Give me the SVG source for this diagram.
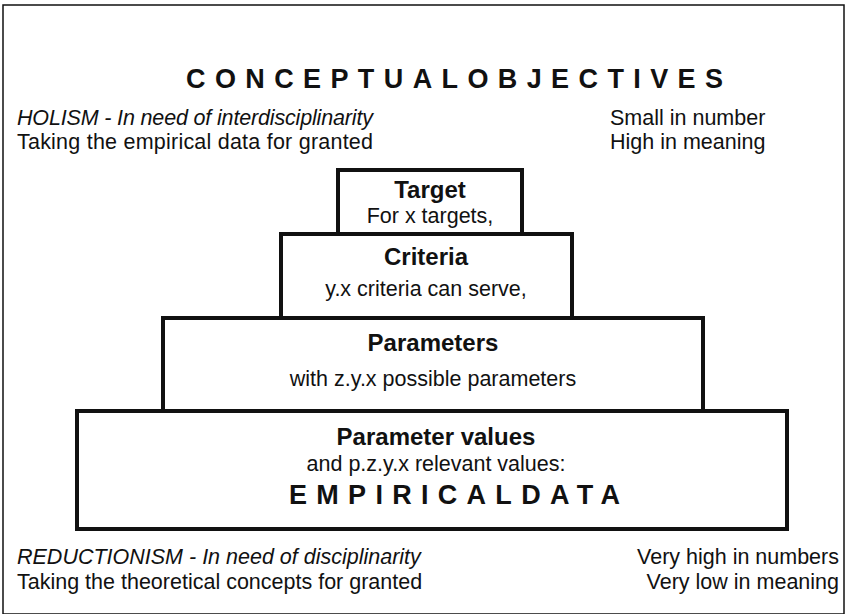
<svg xmlns="http://www.w3.org/2000/svg" width="846" height="614" viewBox="0 0 846 614">
<style>
text{font-family:"Liberation Sans",Arial,sans-serif;fill:#111}
.box{fill:#fff;stroke:#111;stroke-width:4}
.t{font-size:24px;font-weight:bold;text-anchor:middle}
.s{font-size:21.5px;text-anchor:middle}
.n{font-size:21.5px}
.i{font-style:italic}
.big{font-size:27px;font-weight:bold}
</style>
<rect x="3" y="5" width="841" height="609" fill="#fff" stroke="#111" stroke-width="1.5"/>
<text class="big" x="186" y="88" textLength="537">CONCEPTUALOBJECTIVES</text>
<text class="n i" x="17" y="125" textLength="356">HOLISM - In need of interdisciplinarity</text>
<text class="n" x="17" y="149" textLength="356">Taking the empirical data for granted</text>
<text class="n" x="610" y="125">Small in number</text>
<text class="n" x="610" y="149">High in meaning</text>
<g id="connectors"/>
<g id="target">
<rect class="box" x="338" y="170" width="184" height="64"/>
<text class="t" x="430" y="198">Target</text>
<text class="s" x="430" y="223">For x targets,</text>
</g>
<g id="criteria">
<rect class="box" x="281" y="234" width="291" height="84"/>
<text class="t" x="426" y="265">Criteria</text>
<text class="s" x="426" y="296">y.x criteria can serve,</text>
</g>
<g id="parameters">
<rect class="box" x="163" y="318" width="540" height="93"/>
<text class="t" x="433" y="351">Parameters</text>
<text class="s" x="433" y="386">with z.y.x possible parameters</text>
</g>
<g id="values">
<rect class="box" x="77" y="411" width="710" height="118"/>
<text class="t" x="436" y="445">Parameter values</text>
<text class="s" x="436" y="471">and p.z.y.x relevant values:</text>
<text class="big" x="289" y="504" textLength="331">EMPIRICALDATA</text>
</g>
<text class="n i" x="17" y="564">REDUCTIONISM - In need of disciplinarity</text>
<text class="n" x="17" y="589">Taking the theoretical concepts for granted</text>
<text class="n" x="839" y="564" text-anchor="end">Very high in numbers</text>
<text class="n" x="839" y="589" text-anchor="end">Very low in meaning</text>
</svg>
